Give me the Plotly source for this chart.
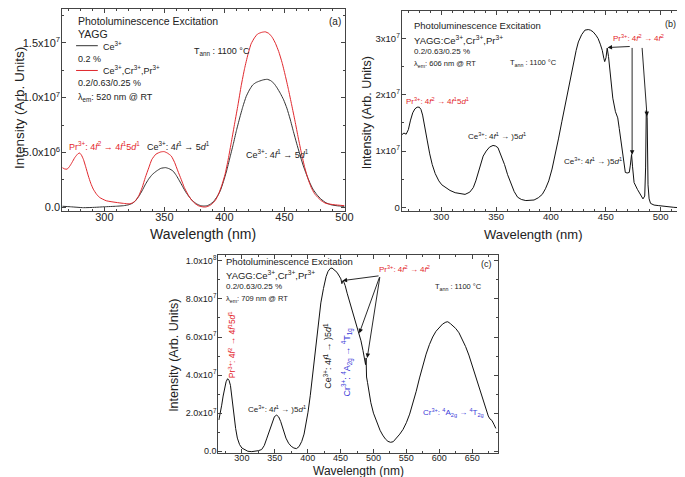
import plotly.graph_objects as go

# ---------------- data ----------------
# Panel (a): YAGG, lambda_em = 520 nm  (intensity in units of 1e6)
a_ce_x = [265, 272, 282.6, 292, 300, 310, 316, 320.5, 323.5, 326, 328.7, 331.4, 334, 336.8, 340, 343.6, 347, 351,
          354, 357.1, 360, 362.6, 365.3, 368, 370.7, 373.4, 376.8, 380.2, 383, 385.7, 388.4, 391, 393.8, 396.5, 399.2,
          401.8, 404.5, 407.3, 410, 412.7, 415.4, 418.1, 420.8, 423.5, 426.3, 429, 432.3, 435.7, 438.5, 441.2, 443.8,
          446.5, 449.3, 452, 454.7, 457.4, 460.1, 462.8, 465.5, 468.3, 471, 473.7, 477, 480.4, 484.5, 488.6, 494, 500]
a_ce_y = [0.10, 0.05, -0.03, 0.0, 0.05, 0.10, 0.15, 0.24, 0.38, 0.60, 1.00, 1.50, 2.05, 2.56, 3.00, 3.32, 3.55, 3.62,
          3.52, 3.32, 2.90, 2.41, 1.88, 1.36, 0.95, 0.60, 0.32, 0.15, 0.12, 0.15, 0.30, 0.54, 0.95, 1.50, 2.35,
          3.32, 4.50, 5.73, 7.00, 8.14, 9.20, 10.1, 10.7, 11.15, 11.38, 11.5, 11.62, 11.67, 11.55, 11.3, 10.9,
          10.4, 9.8, 9.04, 8.05, 6.93, 5.85, 4.82, 3.85, 3.00, 2.27, 1.66, 1.15, 0.75, 0.42, 0.24, 0.14, 0.09]
a_tri_x = [265, 267, 269, 271, 273, 275.5, 278, 279.5, 281, 282.6, 284.5, 286.7, 288.7, 290.8, 293.5, 296.1, 301.6,
           309.7, 316, 320.5, 323.5, 326, 328.7, 331.5, 334.1, 337, 339.6, 343, 347, 349.8, 352.5, 355.8, 358.5,
           361.2, 364, 366.6, 369.5, 372.1, 375.5, 378.8, 382, 384.3, 387, 389.6, 392.5, 395.1, 397.8, 400.5,
           403.2, 405.9, 408.6, 411.3, 414, 416.8, 419.5, 422.2, 425, 427.6, 431, 434, 437, 439.8, 442.5, 445.2,
           448, 450.6, 453.3, 456, 458.8, 461.5, 464.2, 466.9, 469.6, 472.3, 475, 477.8, 481, 484.5, 491.3, 500]
a_tri_y = [3.62, 3.50, 3.48, 3.72, 4.07, 4.55, 4.88, 4.95, 4.75, 4.37, 3.70, 2.86, 2.20, 1.66, 1.20, 0.90, 0.60,
           0.45, 0.36, 0.32, 0.40, 0.62, 1.06, 1.80, 2.71, 3.60, 4.37, 4.85, 5.05, 5.08, 4.95, 4.67, 4.10,
           3.32, 2.55, 1.81, 1.20, 0.75, 0.35, 0.12, 0.04, 0.03, 0.12, 0.30, 0.65, 1.20, 2.00, 3.00,
           4.40, 6.03, 7.70, 9.34, 11.1, 12.66, 13.9, 14.9, 15.45, 15.8, 15.95, 16.0, 15.85, 15.5, 14.95, 14.2,
           13.2, 12.05, 10.75, 9.34, 7.85, 6.33, 4.90, 3.62, 2.60, 1.81, 1.25, 0.90, 0.58, 0.36, 0.24, 0.15]

# Panel (b): YAGG:Ce,Cr,Pr, lambda_em = 606 nm  (units of 1e7)
b_x = [264, 266, 268, 270, 272, 274, 276, 278, 280, 281.5, 283, 285, 287.3, 289.5, 291.8, 294.5, 297.8, 300.5,
       303.8, 308, 312.7, 317, 321.7, 326, 329.2, 331.5, 333.7, 336, 338.2, 341, 344, 347.2, 349.5, 351.7, 354.5,
       357.7, 360.5, 363.6, 366.5, 369.6, 373, 377.1, 381, 384.6, 388.5, 392.1, 395, 398, 401, 404, 407, 410, 413,
       416, 418.3, 420.5, 423, 425, 428, 431, 434, 436, 438.4, 441, 443, 445, 446.8, 448.2, 449, 450.2, 451.3,
       452.5, 454, 455.2, 456.4, 458.8, 460.9, 462.3, 463.9, 465, 466, 467.8, 469.5, 471.4, 472.4, 473.5, 474.4,
       475.8, 478.8, 481.9, 483.9, 485.5, 486.3, 486.9, 487.7, 488.5, 489.5, 490.8, 494, 498.3, 505, 512, 519]
b_y = [1.29, 1.32, 1.30, 1.38, 1.55, 1.68, 1.75, 1.78, 1.78, 1.74, 1.64, 1.45, 1.18, 0.95, 0.76, 0.60, 0.47, 0.40,
       0.35, 0.30, 0.26, 0.24, 0.23, 0.27, 0.35, 0.47, 0.62, 0.77, 0.91, 1.00, 1.07, 1.10, 1.09, 1.06, 0.93,
       0.76, 0.58, 0.41, 0.28, 0.18, 0.14, 0.12, 0.12, 0.13, 0.17, 0.23, 0.33, 0.47, 0.68, 0.94, 1.23, 1.53, 1.82,
       2.12, 2.36, 2.59, 2.79, 2.94, 3.07, 3.15, 3.16, 3.15, 3.12, 3.06, 3.00, 2.90, 2.79, 2.65, 2.59, 2.66, 2.83,
       2.68, 2.35, 2.12, 1.94, 1.70, 1.59, 1.40, 1.18, 1.00, 0.82, 0.62, 0.61, 0.62, 0.75, 0.94, 0.72,
       0.44, 0.32, 0.21, 0.15, 0.20, 0.70, 1.72, 1.60, 0.40, 0.15, 0.07, 0.04, 0.03, 0.01, 0.0, -0.01]

# Panel (c): YAGG:Ce,Cr,Pr, lambda_em = 709 nm  (units of 1e7)
c_x = [265, 267, 269.3, 271.5, 273.6, 276, 278.3, 280.5, 282.6, 285, 287.8, 290.5, 293.1, 296.5, 300, 305, 309, 315,
       319.6, 325, 330, 334, 338, 342, 346, 349.5, 352.9, 356, 359, 363, 367, 371, 375, 379, 383, 387, 391, 394.5,
       397.3, 400.5, 404, 408, 412, 416, 420, 424, 428, 431, 434.3, 437, 441, 444.5, 448, 450.5, 452, 453.5, 455,
       457, 460, 463, 466, 470, 474, 478, 481, 484, 486.5, 488, 488.8, 489.5, 491, 493.5, 496, 500, 503, 506, 510,
       514, 518, 522, 526, 530, 535, 540, 545, 550, 555, 560, 565, 570, 575, 580, 585, 590, 595, 600, 605, 610,
       613, 617, 621, 625, 630, 635, 640, 645, 650, 655, 660, 664, 667, 671, 674.5, 677, 680, 683, 686]
c_y = [1.64, 1.95, 2.42, 2.90, 3.29, 3.65, 3.81, 3.72, 3.46, 2.75, 1.90, 1.20, 0.69, 0.35, 0.17, 0.06, 0.0, -0.02,
       0.0, 0.03, 0.09, 0.30, 0.69, 1.10, 1.56, 1.82, 1.90, 1.80, 1.56, 1.10, 0.69, 0.42, 0.26, 0.17, 0.14, 0.25,
       0.52, 0.90, 1.38, 2.05, 2.94, 4.20, 5.54, 6.70, 7.79, 8.55, 9.17, 9.45, 9.60, 9.62, 9.50, 9.40, 9.20, 9.05,
       8.80, 8.95, 8.88, 8.70, 8.30, 7.95, 7.55, 7.10, 6.60, 6.20, 5.80, 5.30, 4.80, 4.55, 4.90, 3.90, 3.60, 3.00,
       2.55, 2.00, 1.70, 1.45, 1.10, 0.85, 0.65, 0.52, 0.47, 0.50, 0.68, 0.90, 1.15, 1.50, 1.95, 2.50, 3.15, 3.85,
       4.50, 5.10, 5.60, 6.00, 6.30, 6.52, 6.68, 6.78, 6.80, 6.70, 6.58, 6.45, 6.22, 5.90, 5.50, 5.05, 4.50, 4.00,
       3.45, 3.00, 2.60, 2.20, 1.85, 1.70, 1.62, 1.42, 1.20]

# tick labels
a_xticks = [300, 350, 400, 450, 500]
a_yticks = [0, 5e6, 1e7, 1.5e7]
a_ylabels = ['0.0', '5.0x10<sup>6</sup>', '1.0x10<sup>7</sup>', '1.5x10<sup>7</sup>']
b_xticks = [300, 350, 400, 450, 500]
b_yticks = [0, 1e7, 2e7, 3e7]
b_ylabels = ['0', '1x10<sup>7</sup>', '2x10<sup>7</sup>', '3x10<sup>7</sup>']
c_xticks = [300, 350, 400, 450, 500, 550, 600, 650]
c_yticks = [0, 2e7, 4e7, 6e7, 8e7, 1e8]
c_ylabels = ['0.0', '2.0x10<sup>7</sup>', '4.0x10<sup>7</sup>', '6.0x10<sup>7</sup>', '8.0x10<sup>7</sup>',
             '1.0x10<sup>8</sup>']
x_title = 'Wavelength (nm)'
y_title = 'Intensity (Arb. Units)'

# ---------------- figure ----------------
W, H = 685, 477
FONT = 'Arial, Liberation Sans, sans-serif'
RED = '#e3262b'
BLUE = '#3b3bd8'
INK = '#222222'


def P(px, py):
    return px / W, 1 - py / H


fig = go.Figure()
fig.add_trace(go.Scatter(x=a_ce_x, y=[v * 1e6 for v in a_ce_y], xaxis='x', yaxis='y', mode='lines',
                         line=dict(color='#333333', width=1, shape='spline', smoothing=0.5),
                         name='Ce3+ 0.2 %', showlegend=False))
fig.add_trace(go.Scatter(x=a_tri_x, y=[v * 1e6 for v in a_tri_y], xaxis='x', yaxis='y', mode='lines',
                         line=dict(color='#e0282d', width=1, shape='spline', smoothing=0.5),
                         name='Ce3+,Cr3+,Pr3+ 0.2/0.63/0.25 %', showlegend=False))
fig.add_trace(go.Scatter(x=b_x, y=[v * 1e7 for v in b_y], xaxis='x2', yaxis='y2', mode='lines',
                         line=dict(color='#111111', width=1), showlegend=False))
fig.add_trace(go.Scatter(x=c_x, y=[v * 1e7 for v in c_y], xaxis='x3', yaxis='y3', mode='lines',
                         line=dict(color='#111111', width=1), showlegend=False))


def xax(domain, anchor, rng, ticks, fsize, minor):
    return dict(domain=domain, anchor=anchor, range=rng, tickvals=ticks, ticks='inside', ticklen=4,
                mirror='ticks', showline=True, linecolor='#444444', linewidth=1, showgrid=False, zeroline=False,
                ticklabelstandoff=-4,
                tickfont=dict(family=FONT, size=fsize, color=INK),
                minor=dict(dtick=minor, ticks='inside', ticklen=2, showgrid=False))


def yax(domain, anchor, rng, ticks, labels, fsize, minor):
    return dict(domain=domain, anchor=anchor, range=rng, tickvals=ticks, ticktext=labels, ticks='inside',
                ticklen=4, mirror='ticks', showline=True, linecolor='#444444', linewidth=1, showgrid=False,
                zeroline=False, ticklabelstandoff=-1, tickfont=dict(family=FONT, size=fsize, color=INK),
                minor=dict(dtick=minor, ticks='inside', ticklen=2, showgrid=False))


fig.update_layout(
    width=W, height=H, margin=dict(l=0, r=0, t=0, b=0),
    paper_bgcolor='white', plot_bgcolor='white', showlegend=False,
    xaxis=xax([55 / W, 341 / W], 'y', [265, 500], a_xticks, 11, 10),
    yaxis=yax([1 - 204 / H, 1.0], 'x', [-3.6e5, 1.808e7], a_yticks, a_ylabels, 11, 2.5e6),
    xaxis2=xax([399 / W, 683 / W], 'y2', [264, 519.5], b_xticks, 9.5, 10),
    yaxis2=yax([1 - 204 / H, 1 - 2 / H], 'x2', [-0.0705e7, 3.49e7], b_yticks, b_ylabels, 9.5, 0.5e7),
    xaxis3=xax([213 / W, 497 / W], 'y3', [264, 690], c_xticks, 9, 25),
    yaxis3=yax([1 - 448 / H, 1 - 248 / H], 'x3', [-1.04e6, 1.031e8], c_yticks, c_ylabels, 9, 1e7),
)

ann = []


def T(text, px, py, size, color=INK, xanchor='left', angle=0):
    x, y = P(px, py)
    ann.append(dict(text=text, x=x, y=y, xref='paper', yref='paper', xanchor=xanchor, yanchor='middle',
                    showarrow=False, textangle=angle, font=dict(family=FONT, size=size, color=color)))


# axis titles
T(x_title, 198, 227, 14, xanchor='center')
T(y_title, 11, 100, 13.5, xanchor='center', angle=-90)
T(x_title, 532, 227, 13, xanchor='center')
T(y_title, 364, 105, 12.5, xanchor='center', angle=-90)
T(x_title, 355, 466, 12, xanchor='center')
T(y_title, 168, 349, 12.5, xanchor='center', angle=-90)

PR_5D = 'Pr<sup>3+</sup>: 4<i>f</i><sup>2</sup> → 4<i>f</i><sup>1</sup>5<i>d</i><sup>1</sup>'
PR_FF = 'Pr<sup>3+</sup>: 4<i>f</i><sup>2</sup> → 4<i>f</i><sup>2</sup>'
CE_A = 'Ce<sup>3+</sup>: 4<i>f</i><sup>1</sup> → 5<i>d</i><sup>1</sup>'
CE_B = 'Ce<sup>3+</sup>: 4<i>f</i><sup>1</sup> → )5<i>d</i><sup>1</sup>'
TANN = 'T<sub>ann</sub> : 1100 °C'

# panel (a)
T('Photoluminescence Excitation', 69, 12, 10.5)
T('YAGG', 69, 25, 10.5)
T('Ce<sup>3+</sup>', 94, 37, 9)
T('0.2 %', 69, 50, 9)
T('Ce<sup>3+</sup>,Cr<sup>3+</sup>,Pr<sup>3+</sup>', 94, 62, 9)
T('0.2/0.63/0.25 %', 69, 75, 9)
T('λ<sub>em</sub>: 520 nm @ RT', 69, 89, 9)
T(TANN, 186, 43, 9)
T('(a)', 339, 13, 10, xanchor='right')
T(PR_5D, 60, 138, 9, RED)
T(CE_A, 139, 138, 9)
T(CE_A, 239, 146, 9)

# panel (b)
T('Photoluminescence Excitation', 409, 17, 9.5)
T('YAGG:Ce<sup>3+</sup>,Cr<sup>3+</sup>,Pr<sup>3+</sup>', 409, 31, 9.5)
T('0.2/0.63/0.25 %', 409, 43, 8)
T('λ<sub>em</sub>: 606 nm @ RT', 409, 55, 7.5)
T(TANN, 507, 54, 7.5)
T('(b)', 679, 15, 9, xanchor='right')
T(PR_5D, 401, 93, 8, RED)
T(CE_B, 464, 128, 8)
T(CE_B, 561, 153, 8)
T(PR_FF, 611, 29, 8, RED)

# panel (c)
T('Photoluminescence Excitation', 219, 255, 9.5)
T('YAGG:Ce<sup>3+</sup>,Cr<sup>3+</sup>,Pr<sup>3+</sup>', 219, 268, 9.5)
T('0.2/0.63/0.25 %', 219, 280, 8)
T('λ<sub>em</sub>: 709 nm @ RT', 219, 292, 7.5)
T(TANN, 431, 280, 7.5)
T('(c)', 492, 257, 9, xanchor='right')
T(PR_FF, 374, 262, 8, RED)
T(PR_5D, 227, 338, 8.5, RED, xanchor='center', angle=-90)
T(CE_B, 241, 403, 8)
T(CE_B, 324, 350, 9, xanchor='center', angle=-90)
T('Cr<sup>3+</sup>: <sup>4</sup>A<sub>2g</sub> → <sup>4</sup>T<sub>1g</sub>', 344, 356, 9, BLUE,
  xanchor='center', angle=-90)
T('Cr<sup>3+</sup>: <sup>4</sup>A<sub>2g</sub> → <sup>4</sup>T<sub>2g</sub>', 419, 407, 8, BLUE)


def A(xr, yr, head, tail):
    ann.append(dict(text='', x=head[0], y=head[1], ax=tail[0], ay=tail[1], xref=xr, yref=yr, axref=xr,
                    ayref=yr, showarrow=True, arrowhead=2, arrowsize=1, arrowwidth=0.9, arrowcolor='#111111'))


A('x2', 'y2', (451.6, 2.84e7), (473.2, 2.86e7))
A('x2', 'y2', (474.0, 0.935e7), (474.0, 2.86e7))
A('x2', 'y2', (487.6, 1.62e7), (483.0, 2.86e7))
A('x3', 'y3', (453.0, 8.96e7), (510.0, 9.22e7))
A('x3', 'y3', (478.5, 6.2e7), (510.0, 9.22e7))
A('x3', 'y3', (490.5, 4.9e7), (510.0, 9.22e7))

fig.update_layout(annotations=ann)

# legend samples in panel (a)
for (py, col) in [(37, '#333333'), (62, '#e0282d')]:
    x0, y0 = P(69, py)
    x1, _ = P(91, py)
    fig.add_shape(type='line', xref='paper', yref='paper', x0=x0, x1=x1, y0=y0, y1=y0,
                  line=dict(color=col, width=1))

fig.write_html('out.html')
